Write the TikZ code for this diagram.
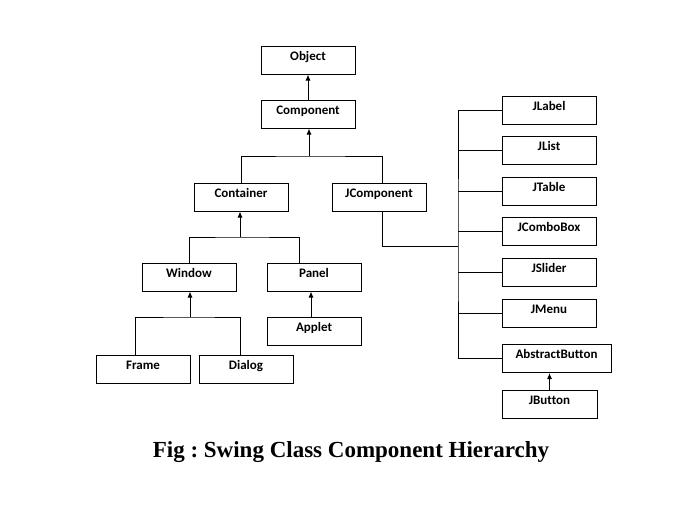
\documentclass[tikz,border=0pt]{standalone}
\usepackage{fontspec}
\setmainfont{Carlito}[Ligatures=NoCommon]
\newfontfamily\capfont{Liberation Serif}
\usetikzlibrary{positioning, arrows.meta}
\frenchspacing

\begin{document}
\begin{tikzpicture}[x=1pt, y=-1pt, node distance=40.6pt, line width=1pt,
  class node/.style={draw, fill=white, minimum width=94pt, minimum height=28pt,
    inner sep=0pt, text height=9pt, text depth=9pt,
    font=\fontsize{13}{15}\selectfont\bfseries},
  inherits/.style={-{Latex[length=6pt,width=5pt]}}]

\useasboundingbox[fill=white] (0,0) rectangle (695,512);

% left part of the tree
\node[class node] (object) at (308,60) {Object};
\node[class node] (component) [below of=object, node distance=54pt] {Component};
\node[class node] (container) at (241,197) {Container};
\node[class node] (jcomponent) [right of=container, node distance=138pt] {JComponent};
\node[class node] (window) at (189,277) {Window};
\node[class node] (panel) [right of=window, node distance=125pt] {Panel};
\node[class node] (applet) [below of=panel, node distance=54pt] {Applet};
\node[class node] (frame) at (143,369) {Frame};
\node[class node] (dialog) [right of=frame, node distance=103pt] {Dialog};

% swing components
\node[class node] (jlabel) at (549,110) {JLabel};
\node[class node] (jlist) [below of=jlabel] {JList};
\node[class node] (jtable) [below of=jlist] {JTable};
\node[class node] (jcombobox) [below of=jtable] {JComboBox};
\node[class node] (jslider) [below of=jcombobox] {JSlider};
\node[class node] (jmenu) [below of=jslider] {JMenu};
\node[class node, minimum width=109pt] (abstractbutton) [below of=jmenu, node distance=45.5pt, xshift=7.5pt] {AbstractButton};
\node[class node, minimum width=95pt] (jbutton) [below of=abstractbutton, node distance=45.5pt, xshift=-7pt] {JButton};

\node[anchor=base, font=\capfont\fontsize{23}{27}\selectfont\bfseries] (caption) at (351,457.7)
  {Fig : Swing Class Component Hierarchy};

% connectors
\draw[inherits] (component) -- (object);

\coordinate (top fork) at (309,156);
\draw[inherits] (top fork) -- (top fork |- component.south);
\draw (container.north) |- (top fork) -| ([xshift=3pt]jcomponent.north);

\coordinate (mid fork) at (240,237);
\draw[inherits] (mid fork) -- (mid fork |- container.south);
\draw (window.north) |- (mid fork) -| ([xshift=-15pt]panel.north);

\draw[inherits] ([xshift=-3pt]applet.north) -- ([xshift=-3pt]panel.south);

\coordinate (low fork) at (190,317);
\draw[inherits] (low fork) -- (low fork |- window.south);
\draw ([xshift=-8pt]frame.north) |- (low fork) -| ([xshift=-6pt]dialog.north);

\coordinate (trunk) at (458,246);
\draw ([xshift=3pt]jcomponent.south) |- (trunk);
\draw (jlabel.west) -| (trunk) |- (abstractbutton.west);
\foreach \n in {jlist, jtable, jcombobox, jslider, jmenu}
  \draw (\n.west) -- (\n.west -| trunk);

\draw[inherits] (jbutton.north) -- (jbutton.north |- abstractbutton.south);
\end{tikzpicture}
\end{document}
